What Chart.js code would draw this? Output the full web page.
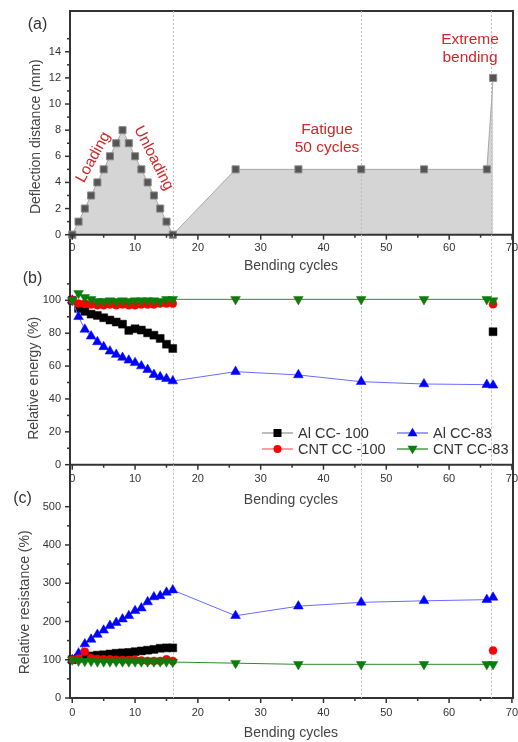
<!DOCTYPE html>
<html><head><meta charset="utf-8">
<script src="https://cdn.jsdelivr.net/npm/chart.js@4.4.1/dist/chart.umd.min.js"></script>
<style>
html,body{margin:0;padding:0;background:#fff;}
#wrap{position:relative;width:518px;height:742px;overflow:hidden;background:#fff;font-family:'Liberation Sans',Arial,sans-serif;}
canvas.c{position:absolute;left:0;top:0;}
.t{position:absolute;white-space:nowrap;}
.red{color:#d02828;font-size:15.5px;line-height:18.5px;text-align:center;}
.pl{font-size:16px;line-height:16px;color:#333;transform:translate(-50%,-50%);}
.leg{position:absolute;height:16px;display:flex;align-items:center;font-size:14.5px;color:#333;white-space:nowrap;}
.leg svg{display:block;}
.leg span{margin-left:4px;}
#frame{position:absolute;left:69px;top:10px;width:445px;height:689px;box-sizing:border-box;border:2px solid #333;}
</style></head><body>
<div id="wrap">
  <div id="frame"></div>
  <canvas id="ca" class="c" width="518" height="742"></canvas>
  <canvas id="cb" class="c" width="518" height="742"></canvas>
  <canvas id="cc" class="c" width="518" height="742"></canvas>

  <div class="t pl" style="left:37.5px;top:24px;">(a)</div>
  <div class="t pl" style="left:32.5px;top:278.3px;">(b)</div>
  <div class="t pl" style="left:22.5px;top:498px;">(c)</div>

  <div class="t red" style="left:93px;top:157px;transform:translate(-50%,-50%) rotate(-61deg);">Loading</div>
  <div class="t red" style="left:154px;top:158px;transform:translate(-50%,-50%) rotate(63deg);">Unloading</div>
  <div class="t red" style="left:327px;top:119.5px;transform:translateX(-50%);">Fatigue<br>50 cycles</div>
  <div class="t red" style="left:470px;top:29.5px;transform:translateX(-50%);">Extreme<br>bending</div>

  <div class="leg" style="left:262px;top:424.7px;"><svg width="32" height="16"><line x1="0" y1="8" x2="31" y2="8" stroke="#9a9a9a" stroke-width="1.3"/><rect x="11.5" y="4" width="8" height="8" fill="#000"/></svg><span>Al CC- 100</span></div>
  <div class="leg" style="left:397px;top:424.7px;"><svg width="32" height="16"><line x1="0" y1="8" x2="31" y2="8" stroke="#6b6bff" stroke-width="1.3"/><polygon points="15.5,2.8 20.5,11.2 10.5,11.2" fill="#0000ff"/></svg><span>Al CC-83</span></div>
  <div class="leg" style="left:262px;top:441px;"><svg width="32" height="16"><line x1="0" y1="8" x2="31" y2="8" stroke="#ff6a6a" stroke-width="1.3"/><circle cx="15.5" cy="8" r="4" fill="#ff0000"/></svg><span>CNT CC -100</span></div>
  <div class="leg" style="left:397px;top:441px;"><svg width="32" height="16"><line x1="0" y1="8" x2="31" y2="8" stroke="#2e8b2e" stroke-width="1.3"/><polygon points="15.5,13.2 20.5,4.8 10.5,4.8" fill="#0a7d0a"/></svg><span>CNT CC-83</span></div>
</div>
<script>
// ---------------- data ----------------
const cyclesA = [0,1,2,3,4,5,6,7,8,9,10,11,12,13,14,15,16,26,36,46,56,66,67];
const deflection = [0,1,2,3,4,5,6,7,8,7,6,5,4,3,2,1,0,5,5,5,5,5,12];

const cycles = [0,1,2,3,4,5,6,7,8,9,10,11,12,13,14,15,16,26,36,46,56,66,67];
const energyAlCC100  = [100,95.1,93.3,91.6,90.8,89.4,88,86.8,85.5,81.7,82.7,81.9,80.2,78.8,76.8,73.3,70.7,null,null,null,null,null,80.9];
const energyAlCC83   = [100,90,82.3,78.2,74.7,71.7,69,67,65.2,63.5,62,60,57.8,54.8,53.4,52.3,50.9,56.6,54.6,50.5,49.1,48.7,48.3];
const energyCNTCC100 = [100,98,98,97.5,97,97,97.5,97,97.5,97,97,97.5,97.5,97.5,98,98,98,null,null,null,null,null,97.6];
const energyCNTCC83  = [100,104.3,101.8,100.6,99.4,99.4,99.8,99.4,99.8,99.4,99.8,99.8,99.8,99.8,99.4,100.6,100.6,100.6,100.6,100.6,100.6,100.6,99.8];

const resAlCC100  = [100,104,108,110,112,113,115,117,118,119,121,123,125,127,130,131,131,null,null,null,null,null,null];
const resAlCC83   = [100,117,141,153,166,177,189,197,206,215,228,235,251,264,267,276,282,215,240,250,254,257,263];
const resCNTCC100 = [100,103,121,104,102,101,101,100,99,99,99,98,97,97,97,101,97,null,null,null,null,null,124];
const resCNTCC83  = [100,97,96,96,95,95,95,95,95,95,95,95,95,95,95,95,94,91,88,88,88,88,88];

const phaseMarks = [16, 46, 66.7];
const xTickLabels = [0,10,20,30,40,50,60,70];
const seriesNames = ['Al CC- 100','Al CC-83','CNT CC -100','CNT CC-83'];

// ---------------- helpers ----------------
Chart.defaults.font.family = "'Liberation Sans', Arial, sans-serif";
const pts = (xs, ys) => xs.map((x,i) => ({x, y: ys[i]}));

const deco = {
  id: 'deco',
  beforeDatasetDraw(chart, args, o) {
    if (args.index !== 0) return;
    const {ctx, chartArea: ca, scales: {x}} = chart;
    ctx.save();
    ctx.strokeStyle = '#bdbdbd'; ctx.lineWidth = 1; ctx.setLineDash([2,2]);
    for (const v of phaseMarks) {
      const px = Math.round(x.getPixelForValue(v)) + 0.5;
      ctx.beginPath(); ctx.moveTo(px, o.regionTop); ctx.lineTo(px, ca.bottom); ctx.stroke();
    }
    ctx.restore();
  },
  afterDraw(chart, args, o) {
    const {ctx, chartArea: ca, scales: {x, y}} = chart;
    ctx.save();
    ctx.strokeStyle = '#333'; ctx.lineWidth = 1.5;
    const ln = (a,b,c,d) => { ctx.beginPath(); ctx.moveTo(a,b); ctx.lineTo(c,d); ctx.stroke(); };
    for (let v = 0; v <= 70; v += 5) {
      const px = x.getPixelForValue(v);
      ln(px, ca.bottom, px, ca.bottom + (v % 10 === 0 ? 5 : 3));
    }
    for (let v = 0; v <= o.yTickMax; v += o.yMinor) {
      const py = y.getPixelForValue(v);
      const len = (Math.abs(v % o.yMajor) < 1e-9) ? 5 : 3;
      ln(ca.left - len, py, ca.left, py);
    }
    if (o.axisLine) { ctx.lineWidth = 2; ln(ca.left, ca.bottom, 514, ca.bottom); }
    ctx.restore();
  }
};

function opts(p) {
  return {
    responsive: false, animation: false, devicePixelRatio: 1, events: [],
    layout: {padding: {left: 0, top: p.top, right: 2.5, bottom: 742 - p.bottom - p.xH}},
    plugins: {legend: {display: false}, tooltip: {enabled: false},
      deco: {regionTop: p.regionTop, yTickMax: p.yTickMax, yMinor: p.yMinor, yMajor: p.yMajor, axisLine: p.axisLine}},
    scales: {
      x: {type: 'linear', min: -0.36, max: 70,
        grid: {display: false, drawTicks: false}, border: {display: false},
        ticks: {stepSize: 10, includeBounds: false, autoSkip: false, maxRotation: 0, minRotation: 0,
          padding: p.xPad, color: '#333', font: {size: 11},
          callback: v => xTickLabels.includes(v) ? String(v) : ''},
        title: {display: true, text: 'Bending cycles', color: '#444', font: {size: 14}, padding: {top: 0, bottom: p.xTitlePad}},
        afterFit(s) { s.height = p.xH; s.paddingLeft = 0; s.paddingRight = 0; }
      },
      y: {type: 'linear', min: 0, max: p.ymax,
        grid: {display: false, drawTicks: false}, border: {display: false},
        ticks: {stepSize: p.yMajor, includeBounds: false, autoSkip: false, padding: 9, color: '#333', font: {size: 11},
          callback: v => v <= p.yLabMax ? String(v) : ''},
        title: {display: true, text: p.ytitle, color: '#444', font: {size: 14}, padding: {top: p.yTitlePad, bottom: 0}},
        afterFit(s) { s.width = 70; s.paddingTop = 0; s.paddingBottom = 0; }
      }
    }
  };
}

function series(label, xs, ys, color, lineColor, style, radius, rot, order) {
  return {label, data: pts(xs, ys), borderColor: lineColor, borderWidth: 1, backgroundColor: color,
    pointBackgroundColor: color, pointBorderColor: color, pointBorderWidth: 0.5,
    pointStyle: style, pointRadius: radius, pointRotation: rot, spanGaps: false, clip: false,
    tension: 0, fill: false, order};
}

// ---------------- (a) ----------------
new Chart(document.getElementById('ca'), {
  type: 'line',
  data: {datasets: [{
    label: 'Deflection distance', data: pts(cyclesA, deflection),
    borderColor: '#a9a9a9', borderWidth: 1, backgroundColor: '#d5d5d5', fill: 'origin',
    pointStyle: 'rect', pointRadius: 5, pointBackgroundColor: '#555', pointBorderColor: '#8a8a8a', pointBorderWidth: 1,
    tension: 0, clip: false
  }]},
  options: opts({top: 38.7, bottom: 234.7, xH: 45, regionTop: 11, ymax: 15, yMajor: 2, yMinor: 1, yTickMax: 15, yLabMax: 14,
    ytitle: 'Deflection distance (mm)', yTitlePad: 27.6, xPad: 7, xTitlePad: 5.3, axisLine: true}),
  plugins: [deco]
});

// ---------------- (b) ----------------
new Chart(document.getElementById('cb'), {
  type: 'line',
  data: {datasets: [
    series(seriesNames[0], cycles, energyAlCC100, '#000000', '#9a9a9a', 'rect', 5.6, 0, 4),
    series(seriesNames[1], cycles, energyAlCC83, '#0000ff', '#6b6bff', 'triangle', 5.6, 0, 3),
    series(seriesNames[2], cycles, energyCNTCC100, '#ff0000', '#ff6a6a', 'circle', 4, 0, 2),
    series(seriesNames[3], cycles, energyCNTCC83, '#0a7d0a', '#2e8b2e', 'triangle', 5.6, 180, 1)
  ]},
  options: opts({top: 292.1, bottom: 464.7, xH: 45, regionTop: 234.7, ymax: 105, yMajor: 20, yMinor: 10, yTickMax: 110, yLabMax: 100,
    ytitle: 'Relative energy (%)', yTitlePad: 25.3, xPad: 7.5, xTitlePad: 1.3, axisLine: true}),
  plugins: [deco]
});

// ---------------- (c) ----------------
new Chart(document.getElementById('cc'), {
  type: 'line',
  data: {datasets: [
    series(seriesNames[0], cycles, resAlCC100, '#000000', '#9a9a9a', 'rect', 5.6, 0, 4),
    series(seriesNames[1], cycles, resAlCC83, '#0000ff', '#6b6bff', 'triangle', 5.6, 0, 3),
    series(seriesNames[2], cycles, resCNTCC100, '#ff0000', '#ff6a6a', 'circle', 4, 0, 2),
    series(seriesNames[3], cycles, resCNTCC83, '#0a7d0a', '#2e8b2e', 'triangle', 5.6, 180, 1)
  ]},
  options: opts({top: 506.7, bottom: 698, xH: 44, regionTop: 464.7, ymax: 500, yMajor: 100, yMinor: 50, yTickMax: 500, yLabMax: 500,
    ytitle: 'Relative resistance (%)', yTitlePad: 16.3, xPad: 8.5, xTitlePad: 0.6, axisLine: false}),
  plugins: [deco]
});
</script>
</body></html>
